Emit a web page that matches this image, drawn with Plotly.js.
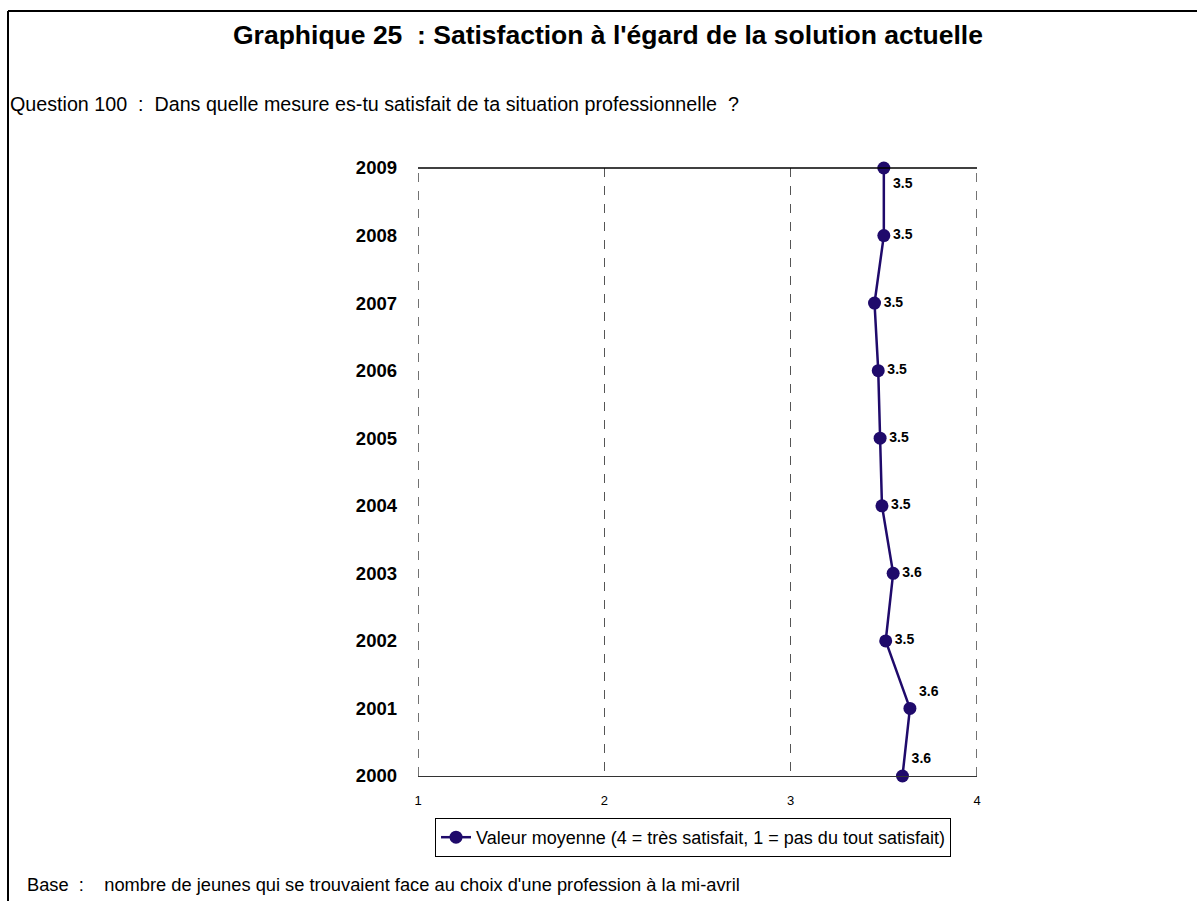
<!DOCTYPE html>
<html>
<head>
<meta charset="utf-8">
<script src="https://cdn.plot.ly/plotly-3.0.1.min.js"></script>
<style>
  body { margin: 0; background: #fff; }
  #chart { width: 1197px; height: 901px; }
</style>
</head>
<body>
<div id="chart"></div>
<script>
// years on the vertical axis, mean satisfaction on the horizontal one
var years = ["2000", "2001", "2002", "2003", "2004", "2005", "2006", "2007", "2008", "2009"];
var meanValues = [3.60, 3.64, 3.51, 3.55, 3.49, 3.48, 3.47, 3.45, 3.50, 3.50];
var valueLabels = ["3.6", "3.6", "3.5", "3.6", "3.5", "3.5", "3.5", "3.5", "3.5", "3.5"];
var labelPos = ["top right", "top right", "middle right", "middle right", "middle right",
                "middle right", "middle right", "middle right", "middle right", "bottom right"];
var xRange = [1, 4];

var plotL = 418, plotR = 977, plotT = 168, plotB = 776;
var W = 1197, H = 901;
function px(x) { return (x - plotL) / (plotR - plotL); }
function py(y) { return (plotB - y) / (plotB - plotT); }

var navy = "#1f0a6b";
var font = "Liberation Sans, Arial, sans-serif";

var trace = {
    x: meanValues,
    y: years,
    type: "scatter",
    mode: "lines+markers+text",
    name: "Valeur moyenne (4 = très satisfait, 1 = pas du tout satisfait)",
    line: { color: navy, width: 2.5 },
    marker: { color: navy, size: 13 },
    text: valueLabels,
    textposition: labelPos,
    textfont: { family: font, size: 14, color: "#000", weight: "bold" },
    cliponaxis: false
};

// dashed gridlines at the two ends of the x range (plotly skips them)
var edgeGrid = xRange.map(function (v) {
    return { type: "line", xref: "x", yref: "paper", x0: v, x1: v, y0: 0, y1: 1,
             line: { color: "#444", width: 1.5, dash: "dash" } };
});

var layout = {
    width: W,
    height: H,
    paper_bgcolor: "#fff",
    plot_bgcolor: "#fff",
    margin: { l: plotL, r: W - plotR, t: plotT, b: H - plotB, pad: 0 },
    font: { family: font, color: "#000" },
    showlegend: true,
    legend: {
        x: 0.492, xanchor: "center",
        y: py(818), yanchor: "top",
        orientation: "h",
        bordercolor: "#000", borderwidth: 1,
        font: { family: font, size: 18 }
    },
    xaxis: {
        range: xRange,
        dtick: 1,
        tick0: 1,
        showgrid: true,
        gridcolor: "#555",
        griddash: "dash",
        gridwidth: 1,
        zeroline: false,
        showline: true,
        linecolor: "#333",
        linewidth: 1,
        ticks: "",
        ticklabelstandoff: 12,
        tickfont: { family: font, size: 13 }
    },
    yaxis: {
        type: "category",
        range: [0, 9],
        showgrid: false,
        zeroline: false,
        showline: false,
        ticks: "",
        ticklabelstandoff: 20,
        tickfont: { family: font, size: 18.5, weight: "bold" }
    },
    shapes: edgeGrid.concat([
        // top border of the plot area
        { type: "line", xref: "paper", yref: "paper", x0: 0, x1: 1, y0: 1, y1: 1,
          line: { color: "#000", width: 1.5 } },
        // outer frame (top and left)
        { type: "line", xref: "paper", yref: "paper", x0: px(8), x1: px(W + 5), y0: py(11), y1: py(11),
          line: { color: "#000", width: 2 } },
        { type: "line", xref: "paper", yref: "paper", x0: px(8), x1: px(8), y0: py(11), y1: py(H + 5),
          line: { color: "#000", width: 2 } }
    ]),
    annotations: [
        { text: "<b>Graphique 25  : Satisfaction à l'égard de la solution actuelle</b>",
          xref: "paper", yref: "paper", x: px(608), y: py(35), xanchor: "center", yanchor: "middle",
          showarrow: false, font: { family: font, size: 26.5 } },
        { text: "Question 100  :  Dans quelle mesure es-tu satisfait de ta situation professionnelle  ?",
          xref: "paper", yref: "paper", x: px(8), y: py(104), xanchor: "left", yanchor: "middle",
          showarrow: false, font: { family: font, size: 19.7 } },
        { text: "Base  :    nombre de jeunes qui se trouvaient face au choix d'une profession à la mi-avril",
          xref: "paper", yref: "paper", x: px(25), y: py(884), xanchor: "left", yanchor: "middle",
          showarrow: false, font: { family: font, size: 18.3 } }
    ]
};

Plotly.newPlot("chart", [trace], layout, { displayModeBar: false, staticPlot: true });
</script>
</body>
</html>
